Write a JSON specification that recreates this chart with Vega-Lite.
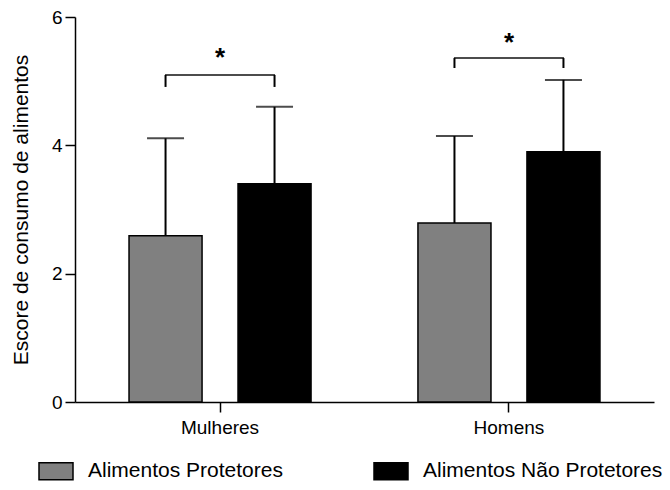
{
  "$schema": "https://vega.github.io/schema/vega-lite/v6.json",
  "width": 579,
  "height": 385,
  "autosize": "none",
  "padding": {"left": 75, "top": 17, "right": 16, "bottom": 88},
  "config": {
    "view": {"stroke": null},
    "font": "Liberation Sans",
    "axis": {
      "domainColor": "black", "tickColor": "black", "domainWidth": 1.5, "tickWidth": 1.5,
      "labelColor": "black", "titleColor": "black", "grid": false,
      "labelFont": "Liberation Sans", "titleFont": "Liberation Sans"
    },
    "legend": {"labelFont": "Liberation Sans"}
  },
  "datasets": {
    "bars": [
      {"grupo": "Mulheres", "tipo": "Alimentos Protetores", "media": 2.59, "sup": 4.11},
      {"grupo": "Mulheres", "tipo": "Alimentos Não Protetores", "media": 3.40, "sup": 4.60},
      {"grupo": "Homens", "tipo": "Alimentos Protetores", "media": 2.79, "sup": 4.145},
      {"grupo": "Homens", "tipo": "Alimentos Não Protetores", "media": 3.90, "sup": 5.02}
    ],
    "brackets": [
      {"grupo": "Mulheres", "tipo": "Alimentos Protetores", "topo": 5.096, "base": 4.91, "estrela": 5.24, "sig": "*"},
      {"grupo": "Mulheres", "tipo": "Alimentos Não Protetores", "topo": 5.096, "base": 4.91, "estrela": 5.24, "sig": "*"},
      {"grupo": "Homens", "tipo": "Alimentos Protetores", "topo": 5.36, "base": 5.205, "estrela": 5.47, "sig": "*"},
      {"grupo": "Homens", "tipo": "Alimentos Não Protetores", "topo": 5.36, "base": 5.205, "estrela": 5.47, "sig": "*"}
    ]
  },
  "encoding": {
    "x": {
      "field": "grupo", "type": "nominal", "sort": ["Mulheres", "Homens"],
      "scale": {"paddingInner": 0.37, "paddingOuter": 0.187},
      "axis": {"title": null, "labelAngle": 0, "tickSize": 10, "labelPadding": 6, "labelFontSize": 19, "domain": true, "ticks": true}
    }
  },
  "layer": [
    {
      "data": {"name": "bars"},
      "mark": {"type": "rule", "strokeWidth": 2, "color": "black"},
      "encoding": {
        "xOffset": {"field": "tipo", "type": "nominal", "sort": ["Alimentos Protetores", "Alimentos Não Protetores"], "scale": {"paddingInner": 0.33, "paddingOuter": 0}},
        "y": {"field": "media", "type": "quantitative"},
        "y2": {"field": "sup"}
      }
    },
    {
      "data": {"name": "bars"},
      "mark": {"type": "tick", "size": 37, "thickness": 2, "color": "black"},
      "encoding": {
        "xOffset": {"field": "tipo", "type": "nominal", "sort": ["Alimentos Protetores", "Alimentos Não Protetores"]},
        "y": {"field": "sup", "type": "quantitative"}
      }
    },
    {
      "data": {"name": "bars"},
      "mark": {"type": "bar", "stroke": "black", "strokeWidth": 1.5},
      "encoding": {
        "xOffset": {"field": "tipo", "type": "nominal", "sort": ["Alimentos Protetores", "Alimentos Não Protetores"]},
        "y": {
          "field": "media", "type": "quantitative",
          "scale": {"domain": [0, 6], "nice": false},
          "axis": {"values": [0, 2, 4, 6], "format": "d", "title": "Escore de consumo de alimentos", "titleFontSize": 21, "titleFontWeight": "normal", "titlePadding": 20, "labelFontSize": 19, "tickSize": 10, "labelPadding": 3}
        },
        "fill": {
          "field": "tipo", "type": "nominal", "sort": ["Alimentos Protetores", "Alimentos Não Protetores"],
          "scale": {"range": ["#808080", "#000000"]},
          "legend": {
            "title": null, "orient": "none", "legendX": -37, "legendY": 436, "direction": "horizontal",
            "symbolType": "M-1,-0.5H1V0.5H-1Z", "symbolSize": 1156, "symbolStrokeColor": "black", "symbolStrokeWidth": 1.5,
            "labelFontSize": 21, "labelOffset": 14, "columnPadding": 88, "labelColor": "black", "labelLimit": 400
          }
        }
      }
    },
    {
      "data": {"name": "brackets"},
      "mark": {"type": "rule", "strokeWidth": 2, "color": "black"},
      "encoding": {
        "xOffset": {"field": "tipo", "type": "nominal", "sort": ["Alimentos Protetores", "Alimentos Não Protetores"]},
        "y": {"field": "base", "type": "quantitative"},
        "y2": {"field": "topo"}
      }
    },
    {
      "data": {"name": "brackets"},
      "transform": [{"filter": "datum.tipo === 'Alimentos Protetores'"}],
      "mark": {"type": "tick", "size": 110, "thickness": 2, "color": "black"},
      "encoding": {
        "y": {"field": "topo", "type": "quantitative"}
      }
    },
    {
      "data": {"name": "brackets"},
      "transform": [{"filter": "datum.tipo === 'Alimentos Protetores'"}],
      "mark": {"type": "text", "fontSize": 26, "fontWeight": "bold", "font": "Liberation Sans", "baseline": "alphabetic", "color": "black"},
      "encoding": {
        "y": {"field": "estrela", "type": "quantitative"},
        "text": {"field": "sig"}
      }
    }
  ]
}
